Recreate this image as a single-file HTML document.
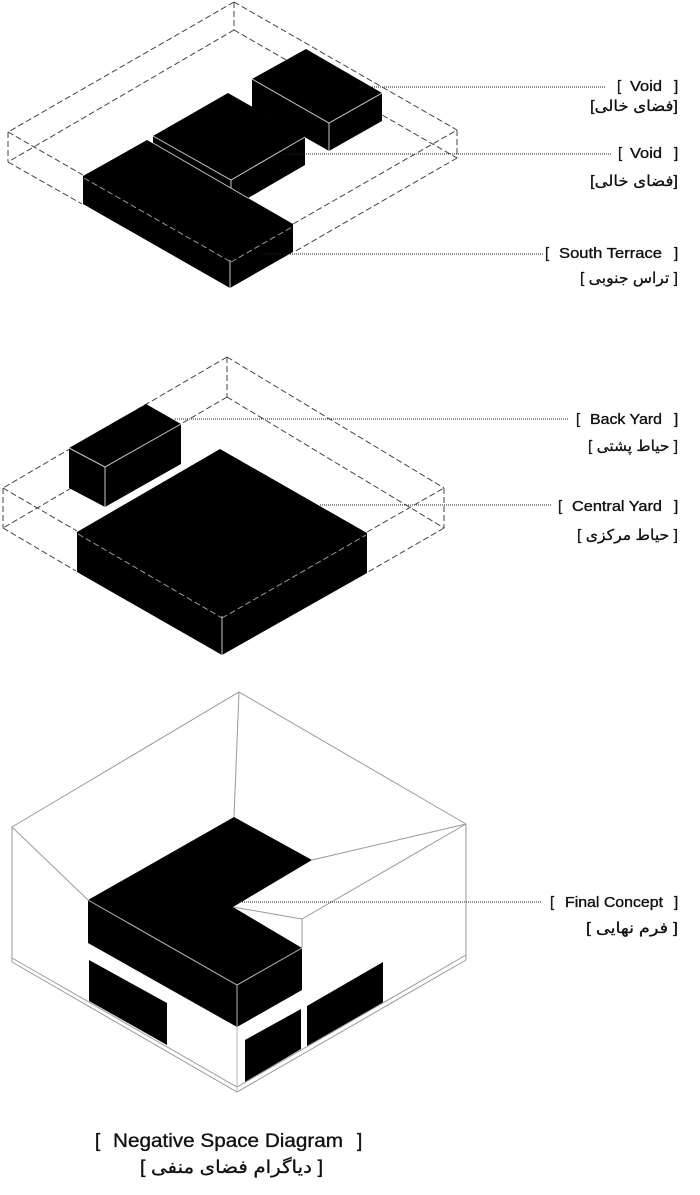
<!DOCTYPE html>
<html>
<head>
<meta charset="utf-8">
<style>
html,body{margin:0;padding:0;background:#fff;}
svg{display:block;}
text{font-family:"Liberation Sans","DejaVu Sans",sans-serif;fill:#111;}
.en{stroke:#111;stroke-width:0.35;}
.fa{stroke:#111;stroke-width:0.3;}
</style>
</head>
<body>
<svg width="700" height="1195" viewBox="0 0 700 1195" xmlns="http://www.w3.org/2000/svg">
<rect x="0" y="0" width="700" height="1195" fill="#fff"/>

<!-- ============ TOP DIAGRAM ============ -->
<g fill="none" stroke="#444" stroke-width="1" stroke-dasharray="6 3">
  <path d="M234,2 L8,132"/>
  <path d="M234,2 L457,130"/>
  <path d="M234,30 L8,162"/>
  <path d="M234,30 L457,158"/>
  <path d="M8,162 L82,204"/>
  <path d="M457,158 L294,252"/>
  <path d="M234,2 L234,30"/>
  <path d="M8,132 L8,162"/>
  <path d="M457,130 L457,158"/>
  <path d="M8,132 L83,175"/>
  <path d="M293,224 L457,130"/>
</g>
<!-- Block A -->
<polygon points="306,49 382,93 382,121 329,151 252,107 252,79" fill="#000"/>
<g stroke="#c8c8c8" stroke-width="1" fill="none">
  <path d="M252,79 L329,123 L382,93"/>
  <path d="M329,123 L329,151"/>
</g>
<!-- Block B -->
<polygon points="228,93 305,137 305,165 231,208 153,164 153,136" fill="#000"/>
<g stroke="#c8c8c8" stroke-width="1" fill="none">
  <path d="M153,136 L231,180 L305,137"/>
  <path d="M231,180 L231,189"/>
</g>
<!-- Block C -->
<polygon points="147,140 293,224 293,252 230,288 83,204 83,176" fill="#000"/>
<g stroke="#c8c8c8" stroke-width="1" fill="none">
  <path d="M153,143 L248,198"/>
  <path d="M230,260 L230,288"/>
</g>
<g fill="none" stroke="#9a9a9a" stroke-width="1" stroke-dasharray="6 3">
  <path d="M84,178 L231,262"/>
  <path d="M231,262 L292,227"/>
</g>
<!-- connectors top -->
<g stroke="#222" stroke-width="1" stroke-dasharray="1 1" fill="none">
  <path d="M358,87 L605,87"/>
  <path d="M282,154 L611,154"/>
  <path d="M262,254 L543,254"/>
</g>

<!-- ============ MIDDLE DIAGRAM ============ -->
<g fill="none" stroke="#444" stroke-width="1" stroke-dasharray="6 3">
  <path d="M227,357 L3,488"/>
  <path d="M227,357 L444,488"/>
  <path d="M227,397 L3,528"/>
  <path d="M227,397 L444,528"/>
  <path d="M3,528 L76,571"/>
  <path d="M444,528 L368,572"/>
  <path d="M227,357 L227,397"/>
  <path d="M3,488 L3,528"/>
  <path d="M444,488 L444,528"/>
  <path d="M3,488 L77,531"/>
  <path d="M367,532 L444,488"/>
</g>
<!-- Block E (Back Yard) -->
<polygon points="146,404 181,424 181,464 105,507 69,488 69,448" fill="#000"/>
<g stroke="#c8c8c8" stroke-width="1" fill="none">
  <path d="M69,448 L105,467 L181,424"/>
  <path d="M105,467 L105,507"/>
</g>
<!-- Block D (Central Yard) -->
<polygon points="220,449 367,533 367,573 222,655 77,572 77,532" fill="#000"/>
<g stroke="#c8c8c8" stroke-width="1" fill="none">
  <path d="M222,616 L222,655"/>
</g>
<g fill="none" stroke="#9a9a9a" stroke-width="1" stroke-dasharray="6 3">
  <path d="M78,534 L222,618"/>
  <path d="M222,618 L366,535"/>
</g>
<!-- connectors middle -->
<g stroke="#222" stroke-width="1" stroke-dasharray="1 1" fill="none">
  <path d="M175,419 L568,419"/>
  <path d="M320,505 L552,505"/>
</g>

<!-- ============ BOTTOM DIAGRAM ============ -->
<polygon points="234,817 312,860 233,907 302,948 237,985 88,900" fill="#000"/>
<polygon points="88,900 237,985 237,1027 88,943" fill="#000"/>
<polygon points="237,985 302,948 302,990 237,1027" fill="#000"/>
<polygon points="89,960 167,1003 167,1045 89,1001" fill="#000"/>
<polygon points="245,1040 301,1009 301,1049 245,1082" fill="#000"/>
<polygon points="307,1006 383,962 383,1003 307,1046" fill="#000"/>
<g fill="none" stroke="#9a9a9a" stroke-width="1">
  <path d="M12,827 L239,692 L466,824"/>
  <path d="M12,827 L12,962"/>
  <path d="M466,824 L466,960"/>
  <path d="M12,958 L237,1087 L466,955"/>
  <path d="M12,962 L237,1092 L466,960"/>
  <path d="M239,692 L234,817"/>
  <path d="M12,827 L88,900"/>
  <path d="M466,824 L312,860"/>
  <path d="M466,824 L302,919"/>
  <path d="M233,907 L302,919 L302,948"/>
</g>
<g fill="none" stroke="#b8b8b8" stroke-width="1">
  <path d="M88,900 L237,985 L302,948"/>
  <path d="M237,985 L237,1092"/>
</g>
<path d="M236,902 L542,902" stroke="#222" stroke-width="1" stroke-dasharray="1 1" fill="none"/>

<!-- ============ LABELS ============ -->
<g font-size="15" class="en">
  <text x="617" y="91">[</text>
  <text x="662" y="91" text-anchor="end" textLength="32" lengthAdjust="spacingAndGlyphs">Void</text>
  <text x="674" y="91">]</text>

  <text x="618" y="158">[</text>
  <text x="662" y="158" text-anchor="end" textLength="32" lengthAdjust="spacingAndGlyphs">Void</text>
  <text x="674" y="158">]</text>

  <text x="545" y="258">[</text>
  <text x="662" y="258" text-anchor="end" textLength="103" lengthAdjust="spacingAndGlyphs">South Terrace</text>
  <text x="674" y="258">]</text>

  <text x="576" y="424">[</text>
  <text x="662" y="424" text-anchor="end" textLength="72" lengthAdjust="spacingAndGlyphs">Back Yard</text>
  <text x="674" y="424">]</text>

  <text x="558" y="511">[</text>
  <text x="662" y="511" text-anchor="end" textLength="90" lengthAdjust="spacingAndGlyphs">Central Yard</text>
  <text x="674" y="511">]</text>

  <text x="550" y="907">[</text>
  <text x="663" y="907" text-anchor="end" textLength="98" lengthAdjust="spacingAndGlyphs">Final Concept</text>
  <text x="674" y="907">]</text>
</g>
<g font-size="15" class="fa">
  <text x="590" y="111" textLength="88" lengthAdjust="spacingAndGlyphs">[فضای خالی]</text>
  <text x="590" y="186" textLength="88" lengthAdjust="spacingAndGlyphs">[فضای خالی]</text>
  <text x="580" y="283" textLength="98" lengthAdjust="spacingAndGlyphs">[ تراس جنوبی ]</text>
  <text x="588" y="451" textLength="90" lengthAdjust="spacingAndGlyphs">[ حیاط پشتی ]</text>
  <text x="577" y="540" textLength="101" lengthAdjust="spacingAndGlyphs">[ حیاط مرکزی ]</text>
  <text x="586" y="933" textLength="92" lengthAdjust="spacingAndGlyphs">[ فرم نهایی ]</text>
</g>
<g font-size="19" class="en">
  <text x="95" y="1147">[</text>
  <text x="343" y="1147" text-anchor="end" textLength="230" lengthAdjust="spacingAndGlyphs">Negative Space Diagram</text>
  <text x="357" y="1147">]</text>
</g>
<text x="140" y="1173" font-size="18" class="fa" textLength="183" lengthAdjust="spacingAndGlyphs">[ دیاگرام فضای منفی ]</text>
</svg>
</body>
</html>
